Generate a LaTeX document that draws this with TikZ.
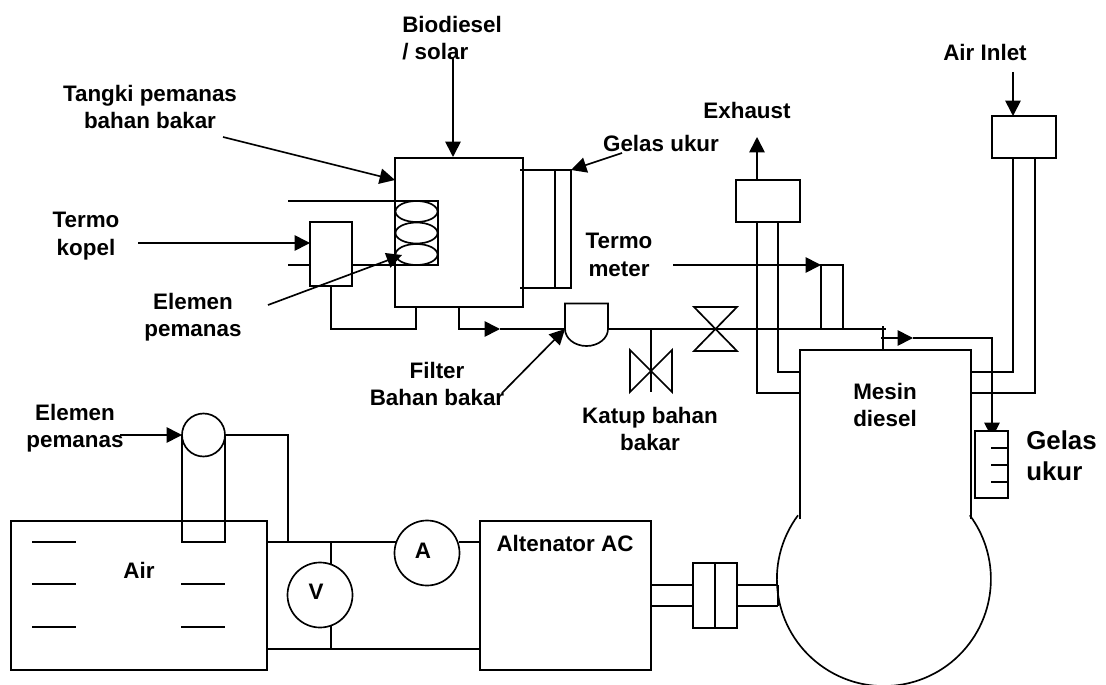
\documentclass[tikz,border=0pt]{standalone}
\usepackage{fontspec}
\setmainfont{Liberation Sans}
\usetikzlibrary{arrows.meta}

\tikzset{
  wire/.style={line width=1.25pt},
  flow/.style={line width=1.25pt,-{Triangle[length=11.5pt,width=11.5pt]}},
  box/.style 2 args={draw,line width=1.25pt,inner sep=0pt,outer sep=0pt,minimum width=#1*0.75pt,minimum height=#2*0.75pt},
  meter/.style={draw,circle,line width=1.25pt,inner sep=0pt,outer sep=0pt,minimum size=#1*0.75pt},
  lbl/.style={font=\bfseries\fontsize{16.8}{20.5}\selectfont,align=center,inner sep=0pt},
}

\begin{document}
\begin{tikzpicture}[x=0.75pt,y=-0.75pt]
\useasboundingbox (0,0) rectangle (1106,685);

% fuel tank with heater coil and gauge
\node[box={128}{149}] (tank) at (459,232.5) {};
\node[box={43}{64}] (coil) at (416.5,233) {};
\node[box={42}{64}] (thermo) at (331,254) {};
\draw[wire] (416.5,211.5) ellipse [x radius=21,y radius=10.5];
\draw[wire] (416.5,233) ellipse [x radius=21,y radius=10.5];
\draw[wire] (416.5,254.5) ellipse [x radius=21,y radius=10.5];
\coordinate (coilin) at (288,201);
\coordinate (coilout) at (288,265);
\coordinate (coiljoin) at (395,265);
\draw[wire] (coilin) -- (coil.north west);
\draw[wire] (coilout) -- (310,265);
\draw[wire] (352,265) -- (coiljoin);
\draw[wire] (520,170) -- (571,170) -- (571,288) -- (520,288);
\draw[wire] (555,170) -- (555,288);

% fuel line, filter and valves
\coordinate (retn) at (416,307);
\coordinate (feedhead) at (500,329);
\coordinate (filterin) at (565,329);
\coordinate (filterout) at (608,329);
\coordinate (lineend) at (886,329);
\draw[wire] (thermo.south) -- ++(0,43) -| (retn);
\draw[flow] (tank.south) |- (feedhead);
\draw[wire] (feedhead) -- (filterin);
\draw[wire] (filterin) -- (565,303.5) -- (608,303.5) -- (filterout) arc [start angle=0,end angle=180,x radius=21.5,y radius=17];
\draw[wire] (filterout) -- (lineend);
\draw[wire] (694,307) -- (737,307) -- (694,351) -- (737,351) -- cycle;
\draw[wire] (651,329) -- (651,392);
\draw[wire] (630,350) -- (672,392) -- (672,350) -- (630,392) -- cycle;

% exhaust, air inlet
\node[box={64}{42}] (muffler) at (768,201) {};
\node[box={64}{42}] (airbox) at (1024,137) {};
\coordinate (exhtip) at (757,137);
\coordinate (airtop) at (1013,72);
\draw[flow] (757,180) -- (exhtip);
\draw[flow] (airtop) -- (1013,116);
\draw[wire] (757,222) -- (757,393) -- (800,393);
\draw[wire] (778,222) -- (778,372) -- (800,372);
\draw[wire] (1013,158) -- (1013,372) -- (971,372);
\draw[wire] (1035,158) -- (1035,393) -- (971,393);

% engine
\coordinate (englt) at (800,519);
\coordinate (engrt) at (971,519);
\draw[wire] (englt) -- (800,350) -- (971,350) -- (engrt);
\draw[wire] (798,515.3) arc [start angle=216.6,end angle=-36.6,radius=107];

% return line and small gauge
\draw[wire] (883,326) -- (883,350);
\coordinate (rethead) at (913,338);
\draw[flow] (881,338) -- (rethead);
\draw[flow] (rethead) -| (992,438);
\node[box={33}{67},fill=white] (gauge) at (991.5,464.5) {};
\draw[wire] (991,448) -- (1008,448);
\draw[wire] (991,465) -- (1008,465);
\draw[wire] (991,482) -- (1008,482);

% thermometer
\node[box={22}{64}] (termometer) at (832,297) {};
\coordinate (termofrom) at (673,265);
\draw[flow] (termofrom) -- (termometer.north west);

% water tank and electric side
\node[box={256}{149}] (water) at (139,595.5) {};
\node[box={171}{149}] (alt) at (565.5,595.5) {};
\node[meter=43] (heater) at (203.5,435) {};
\node[meter=65] (volt) at (320,595) {};
\node[meter=65] (amp) at (427,553) {};
\draw[wire] (32,542) -- (76,542);
\draw[wire] (32,584) -- (76,584);
\draw[wire] (32,627) -- (76,627);
\draw[wire] (181,584) -- (225,584);
\draw[wire] (181,627) -- (225,627);
\draw[wire] (heater.west) -- (182,542) -- (225,542) -- (heater.east);
\draw[wire] (heater.east) -| (288,542);
\draw[wire] (267,542) -- (397,542);
\draw[wire] (459,542) -- (480,542);
\draw[wire] (267,649) -- (480,649);
\draw[wire] (331,542) -- (331,564);
\draw[wire] (331,626) -- (331,649);
\coordinate (heaterfrom) at (120,435);
\draw[flow] (heaterfrom) -- (heater.west);

% coupling and shaft
\node[box={44}{65}] (coupling) at (715,595.5) {};
\draw[wire] (coupling.north) -- (coupling.south);
\draw[wire] (651,585) -- (693,585);
\draw[wire] (651,606) -- (693,606);
\draw[wire] (737,585) -- (778,585);
\draw[wire] (737,606) -- (778,606);
\draw[wire] (778,585) -- (778,606);

% labels and their arrows
\node[lbl] (ltangki) at (150,107) {Tangki pemanas\\bahan bakar};
\node[lbl,align=left,anchor=west] (lbio) at (402,38) {Biodiesel\\/ solar};
\node[lbl] (lgelasa) at (661,143) {Gelas ukur};
\node[lbl] (lexh) at (747,110) {Exhaust};
\node[lbl] (lair) at (985,52) {Air Inlet};
\node[lbl] (ltermeter) at (619,255) {Termo\\meter};
\node[lbl] (lkopel) at (86,236) {Termo\\kopel};
\node[lbl] (lelemena) at (193,317) {Elemen\\pemanas};
\node[lbl] (lfilter) at (437,384) {Filter\\Bahan bakar};
\node[lbl] (lkatup) at (650,429) {Katup bahan\\bakar};
\node[lbl] (lmesin) at (885,405) {Mesin\\diesel};
\node[lbl,anchor=west,align=left,font=\bfseries\fontsize{19.4}{23}\selectfont] (lgelasb) at (1026,456) {Gelas\\ukur};
\node[lbl] (lelemenb) at (75,428) {Elemen\\pemanas};
\node[lbl] (lwater) at (139,570) {Air};
\node[lbl] (lv) at (316,592) {V};
\node[lbl] (la) at (423,551) {A};
\node[lbl] (lalt) at (565,543) {Altenator AC};

\coordinate (tangkifrom) at (223,137);
\coordinate (tangkitip) at (395,180);
\coordinate (biofrom) at (453,57);
\coordinate (biotip) at (453,157);
\coordinate (gelasfrom) at (622,153);
\coordinate (gelastip) at (571,170);
\coordinate (kopelfrom) at (138,243);
\coordinate (kopeltip) at (310,243);
\coordinate (elemenfrom) at (268,305);
\coordinate (elementip) at (402,255);
\coordinate (filterfrom) at (502,393);
\draw[flow] (tangkifrom) -- (tangkitip);
\draw[flow] (biofrom) -- (biotip);
\draw[flow] (gelasfrom) -- (gelastip);
\draw[flow] (kopelfrom) -- (kopeltip);
\draw[flow] (elemenfrom) -- (elementip);
\draw[flow] (filterfrom) -- (filterin);
\end{tikzpicture}
\end{document}
